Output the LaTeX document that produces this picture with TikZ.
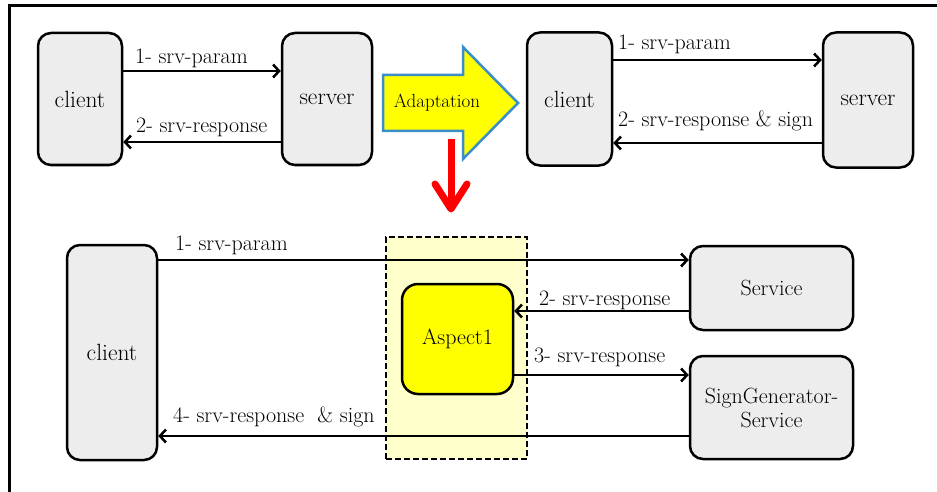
\documentclass[tikz,border=0pt]{standalone}
\usepackage{fontspec}
\usetikzlibrary{arrows.meta}
\definecolor{boxgray}{HTML}{EDEDED}
\definecolor{paleyel}{HTML}{FFFFCC}
\definecolor{adblue}{HTML}{3A8FC8}
\definecolor{pureyel}{HTML}{FFFF00}
\begin{document}
\begin{tikzpicture}[x=1pt,y=-1pt,
  box/.style={draw=black,line width=2.5pt,rounded corners=13pt,fill=boxgray,
    inner sep=0pt,align=center,font=\fontsize{22}{24}\selectfont},
  bigtxt/.style={font=\fontsize{23.5}{26}\selectfont},
  arr/.style={line width=2.5pt,-{Straight Barb[length=6pt,width=13pt,line width=2.5pt]}},
  lbl/.style={anchor=base west,inner sep=0pt,font=\fontsize{22}{24}\selectfont}]
\useasboundingbox (0,0) rectangle (937,492);
% outer frame
\draw[line width=2.5pt] (9.5,492) -- (9.5,5.5) -- (937,5.5);

% top-left
\node[box,bigtxt,minimum width=84pt,minimum height=132pt] (c1) at (80,99) {client};
\node[box,bigtxt,minimum width=90pt,minimum height=132pt] (s1) at (327,99) {server};
\draw[arr] (c1.east |- 0,71) -- (s1.west |- 0,71);
\draw[arr] (s1.west |- 0,142) -- (c1.east |- 0,142);
\node[lbl] (l11) at (135,64) {1- srv-param};
\node[lbl] (l12) at (136,132) {2- srv-response};

% adaptation arrow
\draw[adblue,fill=pureyel,line width=2.5pt,line join=miter]
  (383,75) -- (463,75) -- (463,47) -- (518,103) -- (463,159) -- (463,131) -- (383,131) -- cycle;
\node[inner sep=0pt,font=\fontsize{19}{22}\selectfont] (ad) at (437,103) {Adaptation};

% red arrow
\draw[red,line width=7pt] (451,139) -- (451,206);
\draw[red,line width=7pt,line cap=round,line join=round] (435,184) -- (451,209) -- (467,184);

% top-right
\node[box,bigtxt,minimum width=85pt,minimum height=133pt] (c2) at (569.5,99) {client};
\node[box,bigtxt,minimum width=90pt,minimum height=135pt] (s2) at (868,100) {server};
\draw[arr] (c2.east |- 0,60) -- (s2.west |- 0,60);
\draw[arr] (s2.west |- 0,143) -- (c2.east |- 0,143);
\node[lbl] (l21) at (618,50) {1- srv-param};
\node[lbl] (l22) at (618,127) {2- srv-response \& sign};

% bottom
\node[draw=black,dash pattern=on 6pt off 3pt,line width=2.5pt,fill=paleyel,
  minimum width=141pt,minimum height=222pt,inner sep=0pt] (dz) at (456.5,348) {};
\node[box,bigtxt,minimum width=90pt,minimum height=215pt] (c3) at (112,352.5) {client};
\node[box,fill=pureyel,rounded corners=16pt,minimum width=111pt,minimum height=110pt] (asp) at (457.5,339) {Aspect1};
\node[box,minimum width=163pt,minimum height=84pt] (svc) at (771.5,288) {Service};
\node[box,minimum width=163pt,minimum height=103pt] (sg) at (771.5,407.5) {SignGenerator-\\Service};
\draw[arr] (c3.east |- 0,260) -- (svc.west |- 0,260);
\draw[arr] (svc.west |- 0,311) -- (asp.east |- 0,311);
\draw[arr] (asp.east |- 0,375) -- (sg.west |- 0,375);
\draw[arr] (sg.west |- 0,436) -- (c3.east |- 0,436);
\node[lbl] (l31) at (175,250) {1- srv-param};
\node[lbl] (l32) at (539,305) {2- srv-response};
\node[lbl] (l33) at (534,362) {3- srv-response};
\node[lbl] (l34) at (173,422) {4- srv-response\ \ \& sign};
\end{tikzpicture}
\end{document}
